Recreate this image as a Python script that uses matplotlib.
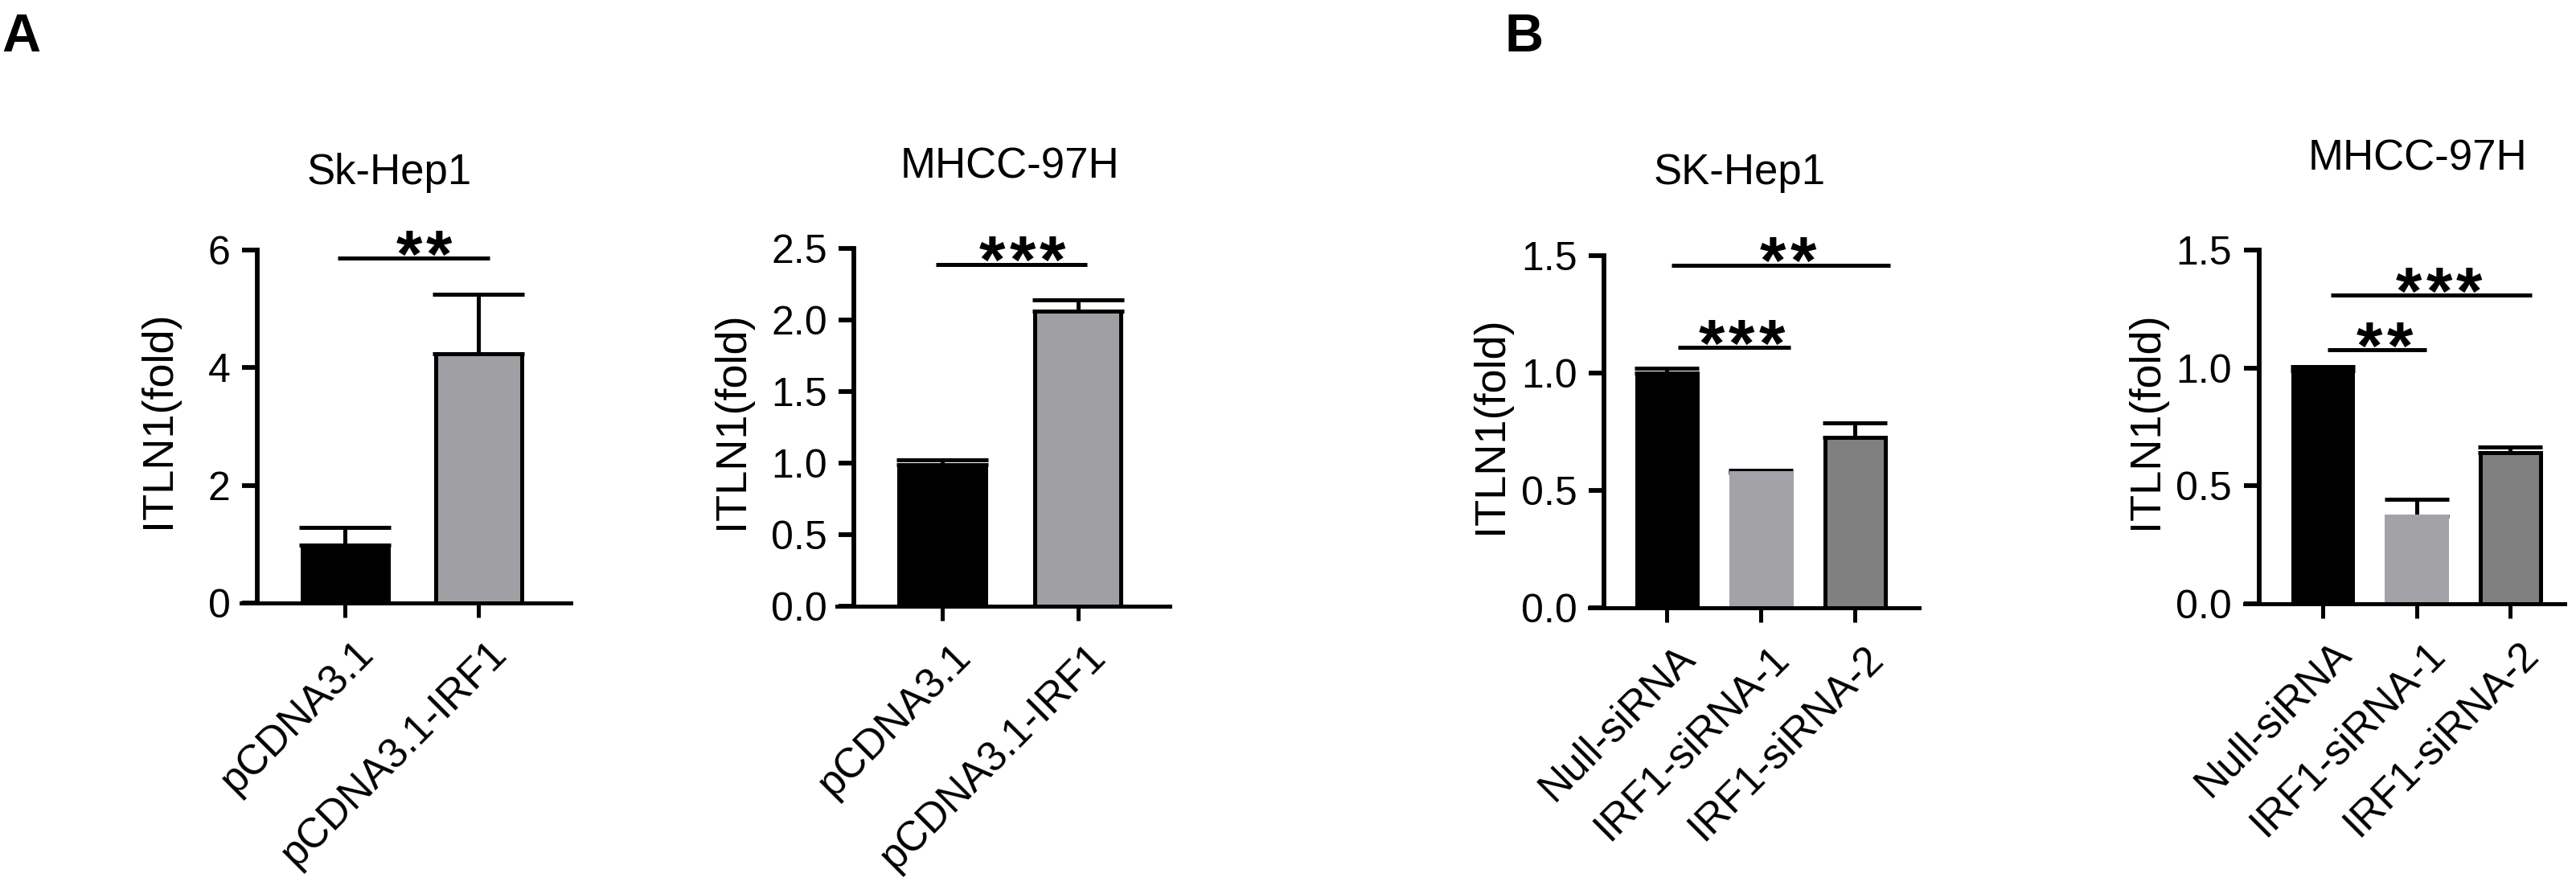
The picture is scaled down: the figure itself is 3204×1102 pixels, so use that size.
import matplotlib
matplotlib.use('Agg')
import matplotlib.pyplot as plt
from matplotlib.transforms import ScaledTranslation

# ======================
# DATA
# ======================

a_groups = ['pCDNA3.1', 'pCDNA3.1-IRF1']
b_groups = ['Null-siRNA', 'IRF1-siRNA-1', 'IRF1-siRNA-2']

sk_a_mean = [0.98, 4.24]
sk_a_err = [0.31, 1.01]
mh_a_mean = [0.99, 2.06]
mh_a_err = [0.03, 0.08]

sk_b_mean = [1.0, 0.576, 0.726]
sk_b_err = [0.02, 0.01, 0.06]
mh_b_mean = [0.987, 0.371, 0.642]
mh_b_err = [0.02, 0.072, 0.024]

# significance brackets: (x start, x end, y, stars)
sk_a_sig = [(-0.06, 1.08, 5.86, '**')]
mh_a_sig = [(-0.05, 1.07, 2.39, '***')]
sk_b_sig = [(0.05, 2.37, 1.46, '**'), (0.12, 1.31, 1.11, '***')]
mh_b_sig = [(0.09, 2.23, 1.308, '***'), (0.05, 1.11, 1.078, '**')]

# ======================
# STYLE
# ======================

plt.rcParams['font.family'] = ['Liberation Sans', 'DejaVu Sans']
LW = 3.6
W, H = 3205, 1102

fig = plt.figure(figsize=(W / 100, H / 100), dpi=100)


def make_axes(left, right, top, bottom):
    return fig.add_axes([left / W, 1 - bottom / H, (right - left) / W, (bottom - top) / H])


def draw_panel(ax, groups, means, errs, colors, edges, capsize, xlim, spine_x,
               ylim, yticks, ylabels, title, title_pos, sigs, label_x):
    x = list(range(len(groups)))
    for i in x:
        ax.errorbar(x[i], means[i], yerr=[[0], [errs[i]]], fmt='none', ecolor='black',
                    elinewidth=LW, capsize=capsize, capthick=LW, zorder=1)
    ax.bar(x, means, width=0.64, color=colors, edgecolor=edges, linewidth=LW, zorder=2)

    ax.set_xlim(*xlim)
    ax.set_ylim(*ylim)
    ax.spines['top'].set_visible(False)
    ax.spines['right'].set_visible(False)
    ax.spines['left'].set_position(('data', spine_x))
    ax.spines['left'].set_linewidth(4.2)
    ax.spines['bottom'].set_linewidth(LW)
    ax.set_yticks(yticks)
    ax.set_yticklabels(ylabels)
    ax.set_xticks(x)
    ax.set_xticklabels(groups, rotation=45, ha='right', va='top', rotation_mode='anchor')
    ax.tick_params(axis='y', length=14, width=4.2, pad=10, labelsize=36)
    ax.tick_params(axis='x', length=13, width=LW, pad=14, labelsize=37)
    shift = ScaledTranslation(0.1, 0, fig.dpi_scale_trans)
    for lab in ax.get_xticklabels():
        lab.set_transform(lab.get_transform() + shift)

    ax.set_ylabel('ITLN1(fold)', fontsize=39)
    ax.yaxis.set_label_coords(label_x, 0.52)
    ax.text(title_pos[0], title_pos[1], title, transform=ax.transAxes,
            ha='center', va='baseline', fontsize=38)

    for x1, x2, y, stars in sigs:
        ax.plot([x1, x2], [y, y], color='black', linewidth=LW, solid_capstyle='butt', clip_on=False)
        n = len(stars)
        for k, s in enumerate(stars):
            # each asterisk placed on its own, spaced like the original
            ax.annotate(s, xy=((x1 + x2) / 2 + 0.08, y),
                        xytext=(27 * (k - (n - 1) / 2), -17), textcoords='offset points',
                        ha='center', va='baseline', fontsize=60, fontweight='bold',
                        annotation_clip=False)


ax1 = make_axes(300, 710, 311, 750)
draw_panel(ax1, a_groups, sk_a_mean, sk_a_err, ['black', '#a0a0a4'], 'black', 41,
           (-0.78, 1.69), -0.66, (0, 6), [0, 2, 4, 6], ['0', '2', '4', '6'],
           'Sk-Hep1', (0.45, 1.187), sk_a_sig, -0.19)

ax2 = make_axes(1041, 1455, 309, 754)
draw_panel(ax2, a_groups, mh_a_mean, mh_a_err, ['black', '#a0a0a4'], 'black', 41,
           (-0.78, 1.68), -0.655, (0, 2.5), [0, 0.5, 1.0, 1.5, 2.0, 2.5],
           ['0.0', '0.5', '1.0', '1.5', '2.0', '2.5'],
           'MHCC-97H', (0.52, 1.196), mh_a_sig, -0.255)

ax3 = make_axes(1977, 2387, 318, 756)
draw_panel(ax3, b_groups, sk_b_mean, sk_b_err, ['black', '#a3a3a7', '#808080'],
           ['black', '#a3a3a7', 'black'], 29,
           (-0.82, 2.68), -0.667, (0, 1.5), [0, 0.5, 1.0, 1.5], ['0.0', '0.5', '1.0', '1.5'],
           'SK-Hep1', (0.456, 1.203), sk_b_sig, -0.24)

ax4 = make_axes(2792, 3190, 311, 751)
draw_panel(ax4, b_groups, mh_b_mean, mh_b_err, ['black', '#a3a3a7', '#808080'],
           ['black', '#a3a3a7', 'black'], 29,
           (-0.83, 2.58), -0.68, (0, 1.5), [0, 0.5, 1.0, 1.5], ['0.0', '0.5', '1.0', '1.5'],
           'MHCC-97H', (0.54, 1.227), mh_b_sig, -0.245)

fig.text(2 / W, 1 - 64 / H, 'A', fontsize=48, fontweight='bold', ha='left', va='baseline')
fig.text(1872 / W, 1 - 64 / H, 'B', fontsize=48, fontweight='bold', ha='left', va='baseline')

fig.savefig('out.png', dpi=100)
